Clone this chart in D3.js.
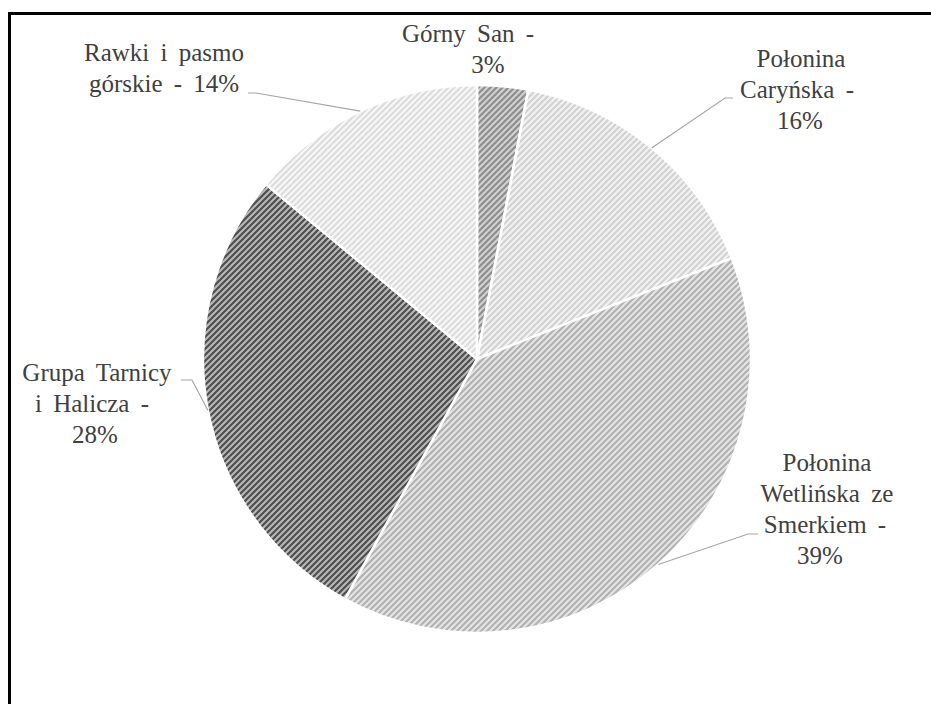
<!DOCTYPE html>
<html>
<head>
<meta charset="utf-8">
<script src="https://cdn.jsdelivr.net/npm/d3@7"></script>
</head>
<body style="margin:0">
<div id="wrap" style="position:relative;width:931px;height:704px;">
<svg id="chart" width="931" height="704" style="display:block;position:absolute;left:0;top:0"></svg>
</div>
<script>
// Share of routes by mountain area (percent)
const categories = [
  "Górny San",
  "Połonina Caryńska",
  "Połonina Wetlińska ze Smerkiem",
  "Grupa Tarnicy i Halicza",
  "Rawki i pasmo górskie"
];
const values = [3, 16, 39, 28, 14];

// Label text as wrapped on the chart
const labelLines = [
  ["Górny San -", "3%"],
  ["Połonina", "Caryńska -", "16%"],
  ["Połonina", "Wetlińska ze", "Smerkiem -", "39%"],
  ["Grupa Tarnicy", "i Halicza -", "28%"],
  ["Rawki i pasmo", "górskie - 14%"]
];

// Hatch fills: stripe colour and ground colour per slice
const stripeColors = ["#8e8e8e", "#d2d2d2", "#b2b2b2", "#4e4e4e", "#dcdcdc"];
const groundColors = ["#d2d2d2", "#f3f3f3", "#e6e6e6", "#b9b9b9", "#f8f8f8"];

// Label placement: per-line centres, first baseline, and leader elbow/end points
const labelLayout = [
  { xs: [468, 488], y: 43, leader: null },
  { xs: [801, 797, 800], y: 68, leader: [[725, 98], [733, 98]] },
  { xs: [827, 827, 825, 820], y: 472, leader: [[748, 534], [758, 534]] },
  { xs: [97, 92, 95], y: 382, leader: [[192, 380], [181, 380]] },
  { xs: [164, 164], y: 62, leader: [[256, 93], [248, 93]] }
];

const svg = d3.select("#chart");
const cx = 477, cy = 359, radius = 274;
const lineStep = 31;

// Hatch patterns ("/" direction)
const defs = svg.append("defs");
values.forEach((v, i) => {
  const p = defs.append("pattern")
    .attr("id", "hatch" + i)
    .attr("patternUnits", "userSpaceOnUse")
    .attr("width", 6).attr("height", 6);
  p.append("rect").attr("width", 6).attr("height", 6).attr("fill", groundColors[i]);
  p.append("path")
    .attr("d", "M-1,1 L1,-1 M0,6 L6,0 M5,7 L7,5")
    .attr("stroke", stripeColors[i])
    .attr("stroke-width", 2.2);
});

// Outer frame (top and left edges visible)
svg.append("path")
  .attr("d", "M9.5,708 L9.5,13.5 L940,13.5")
  .attr("fill", "none")
  .attr("stroke", "#000")
  .attr("stroke-width", 3);

const pie = d3.pie().sort(null).value(d => d);
const arcs = pie(values);
const arc = d3.arc().innerRadius(0).outerRadius(radius);
const edgeArc = d3.arc().innerRadius(radius).outerRadius(radius);

const g = svg.append("g").attr("transform", `translate(${cx},${cy})`);

g.selectAll("path.slice")
  .data(arcs)
  .join("path")
  .attr("class", "slice")
  .attr("d", arc)
  .attr("fill", (d, i) => `url(#hatch${i})`)
  .attr("stroke", "#ffffff")
  .attr("stroke-width", 2.5)
  .attr("stroke-linejoin", "round");

// Leader lines from each slice's outer edge to its label
arcs.forEach((d, i) => {
  const lay = labelLayout[i];
  if (!lay.leader) return;
  const c = edgeArc.centroid(d);
  const start = [cx + c[0], cy + c[1]];
  const pts = [start].concat(lay.leader);
  svg.append("path")
    .attr("d", d3.line()(pts))
    .attr("fill", "none")
    .attr("stroke", "#a6a6a6")
    .attr("stroke-width", 1.2);
});

// Data labels as HTML lines laid over the chart, centred on each line's x
const wrap = d3.select("#wrap");
const fontPx = 25;
labelLines.forEach((lines, i) => {
  const lay = labelLayout[i];
  lines.forEach((line, j) => {
    const baseline = lay.y + j * lineStep;
    wrap.append("div")
      .style("position", "absolute")
      .style("left", (lay.xs[j] - 150) + "px")
      .style("width", "300px")
      .style("top", (baseline - fontPx * 0.9) + "px")
      .style("height", fontPx + "px")
      .style("line-height", fontPx + "px")
      .style("text-align", "center")
      .style("white-space", "pre")
      .style("word-spacing", "5px")
      .style("font-family", '"Liberation Serif", "Times New Roman", serif')
      .style("font-size", fontPx + "px")
      .style("color", "#404040")
      .text(line);
  });
});
</script>
</body>
</html>
